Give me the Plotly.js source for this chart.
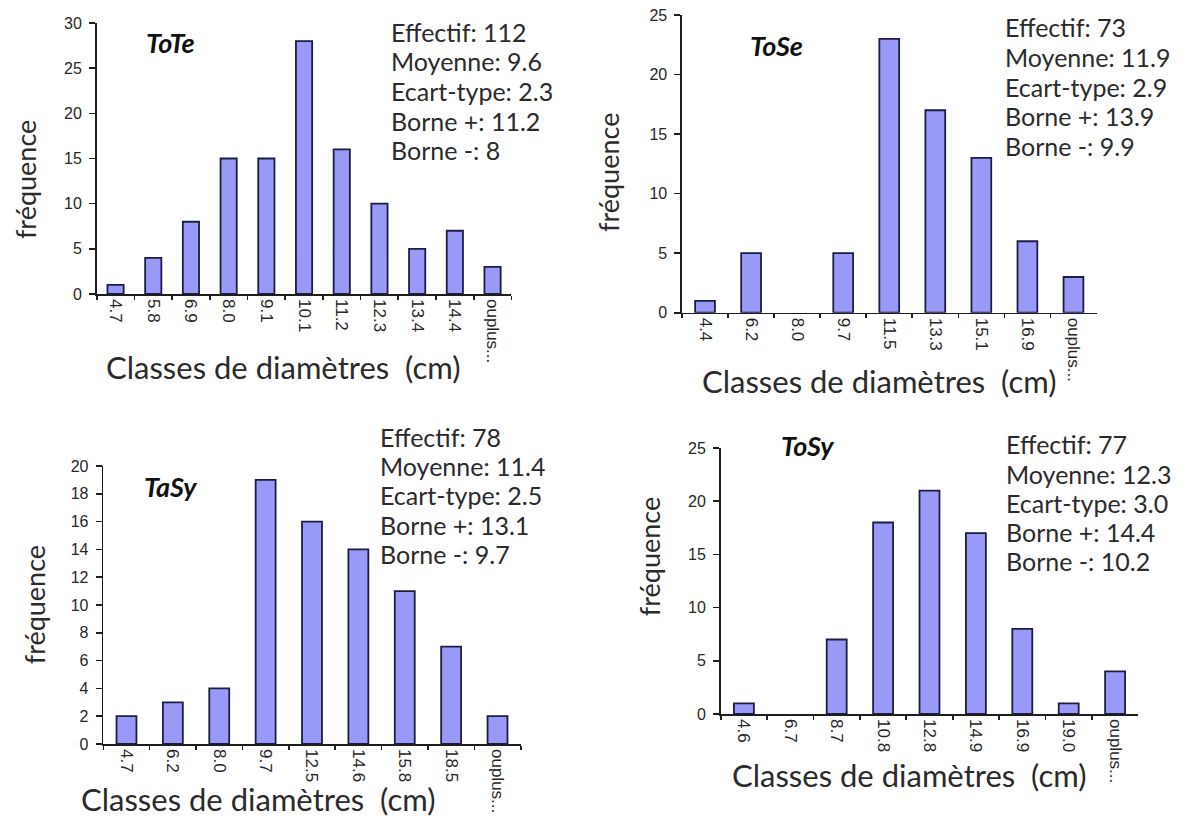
<!DOCTYPE html>
<html>
<head>
<meta charset="utf-8">
<script src="https://cdn.plot.ly/plotly-3.0.1.min.js"></script>
<style>html,body{margin:0;padding:0;background:#fff;}#chart{width:1202px;height:819px;}</style>
</head>
<body>
<div id="chart"></div>
<script>
// ---- Data ----
const namesPanels = ['ToTe', 'ToSe', 'TaSy', 'ToSy'];

const classesToTe = ['4.7', '5.8', '6.9', '8.0', '9.1', '10.1', '11.2', '12.3', '13.4', '14.4', 'ouplus...'];
const freqToTe = [1, 4, 8, 15, 15, 28, 16, 10, 5, 7, 3];
const statsToTe = ['Effectif: 112', 'Moyenne: 9.6', 'Ecart-type: 2.3', 'Borne +: 11.2', 'Borne -: 8'];

const classesToSe = ['4.4', '6.2', '8.0', '9.7', '11.5', '13.3', '15.1', '16.9', 'ouplus...'];
const freqToSe = [1, 5, 0, 5, 23, 17, 13, 6, 3];
const statsToSe = ['Effectif: 73', 'Moyenne: 11.9', 'Ecart-type: 2.9', 'Borne +: 13.9', 'Borne -: 9.9'];

const classesTaSy = ['4.7', '6.2', '8.0', '9.7', '12.5', '14.6', '15.8', '18.5', 'ouplus...'];
const freqTaSy = [2, 3, 4, 19, 16, 14, 11, 7, 2];
const statsTaSy = ['Effectif: 78', 'Moyenne: 11.4', 'Ecart-type: 2.5', 'Borne +: 13.1', 'Borne -: 9.7'];

const classesToSy = ['4.6', '6.7', '8.7', '10.8', '12.8', '14.9', '16.9', '19.0', 'ouplus...'];
const freqToSy = [1, 0, 7, 18, 21, 17, 8, 1, 4];
const statsToSy = ['Effectif: 77', 'Moyenne: 12.3', 'Ecart-type: 3.0', 'Borne +: 14.4', 'Borne -: 10.2'];

const yMax = [30, 25, 20, 25];
const yStep = [5, 5, 2, 5];

const xTitle = 'Classes de diamètres  (cm)';
const yTitle = 'fréquence';

// ---- Layout geometry (pixels) ----
const W = 1202, H = 819;
const px = x => x / W;
const py = y => 1 - y / H;

const panels = [
  {cats: classesToTe, vals: freqToTe, stats: statsToTe,
   x0: 96.7, x1: 511.4, yTop: 23, yBot: 294,
   textX: 390, textY: [32, 61.5, 91, 120.5, 150],
   nameX: 143.5, nameY: 42.4, xtX: 283, xtY: 367, ytX: 26.3, ytY: 179.8},
  {cats: classesToSe, vals: freqToSe, stats: statsToSe,
   x0: 682, x1: 1096.5, yTop: 15, yBot: 312.7,
   textX: 1004, textY: [27, 56.8, 86.6, 116.4, 146.2],
   nameX: 747.7, nameY: 45.2, xtX: 878.5, xtY: 380.8, ytX: 608, ytY: 173},
  {cats: classesTaSy, vals: freqTaSy, stats: statsTaSy,
   x0: 103.3, x1: 520.7, yTop: 466, yBot: 744,
   textX: 379, textY: [437, 466.2, 495.4, 524.6, 553.8],
   nameX: 141.5, nameY: 486.3, xtX: 258, xtY: 799, ytX: 34.3, ytY: 605},
  {cats: classesToSy, vals: freqToSy, stats: statsToSy,
   x0: 720.7, x1: 1138.3, yTop: 448, yBot: 714,
   textX: 1005, textY: [444.4, 473.6, 502.8, 532, 561.2],
   nameX: 779, nameY: 446, xtX: 908.5, xtY: 774.5, ytX: 649.5, ytY: 556.7}
];

const axisColor = '#1e1e1e';
const textFont = 'Lato, "Open Sans", sans-serif';
const tickFont = {family: '"Liberation Sans", Arial, sans-serif', size: 17, color: '#262626'};
const yTickFont = {family: '"Liberation Sans", Arial, sans-serif', size: 16, color: '#262626'};

const traces = [];
const layout = {
  width: W, height: H,
  margin: {l: 0, r: 0, t: 0, b: 0},
  paper_bgcolor: '#ffffff', plot_bgcolor: 'rgba(0,0,0,0)',
  showlegend: false,
  bargap: 0.57,
  annotations: []
};

panels.forEach((p, i) => {
  const k = i + 1;
  const xa = 'x' + (k === 1 ? '' : k);
  const ya = 'y' + (k === 1 ? '' : k);
  const xo = 4 + k, yo = 4 + k; // overlay axes for crossing ticks
  traces.push({
    type: 'bar', x: p.cats, y: p.vals, xaxis: xa, yaxis: ya,
    marker: {color: '#9999f8', line: {color: '#1c1c44', width: p.vals.map(v => v > 0 ? 1.8 : 0)}},
    hoverinfo: 'x+y'
  });
  const n = p.cats.length;
  layout['xaxis' + (k === 1 ? '' : k)] = {
    domain: [px(p.x0), px(p.x1)], anchor: ya, type: 'category',
    range: [-0.5, n - 0.5],
    tickson: 'boundaries', ticks: 'outside', ticklen: 4, tickwidth: 1.6, tickcolor: axisColor,
    showline: true, linecolor: axisColor, linewidth: 1.6,
    showgrid: false, zeroline: false, tickangle: 90, tickfont: tickFont, fixedrange: true
  };
  layout['yaxis' + (k === 1 ? '' : k)] = {
    domain: [py(p.yBot), py(p.yTop)], anchor: xa,
    range: [0, yMax[i]], dtick: yStep[i], tick0: 0,
    ticks: 'outside', ticklen: 6, tickwidth: 1.6, tickcolor: axisColor,
    showline: true, linecolor: axisColor, linewidth: 1.6,
    showgrid: false, zeroline: false, tickfont: yTickFont, ticklabelstandoff: 4, fixedrange: true
  };
  // inner halves of the crossing ticks
  layout['xaxis' + xo] = {
    overlaying: xa, anchor: ya, type: 'linear', range: [-0.5, n - 0.5],
    tick0: -0.5, dtick: 1, ticks: 'inside', ticklen: 4, tickwidth: 1.6, tickcolor: axisColor,
    showticklabels: false, showline: false, showgrid: false, zeroline: false, fixedrange: true
  };
  layout['yaxis' + yo] = {
    overlaying: ya, anchor: xa, side: 'left', range: [0, yMax[i]], dtick: yStep[i], tick0: 0,
    ticks: 'inside', ticklen: 6, tickwidth: 1.6, tickcolor: axisColor,
    showticklabels: false, showline: false, showgrid: false, zeroline: false, fixedrange: true
  };
  // statistics block
  p.stats.forEach((s, j) => {
    layout.annotations.push({
      xref: 'paper', yref: 'paper', x: px(p.textX), y: py(p.textY[j]),
      xanchor: 'left', yanchor: 'middle', showarrow: false, text: s, borderpad: 0,
      font: {family: textFont, size: 25, color: '#2b2b2b'}
    });
  });
  // panel name
  layout.annotations.push({
    xref: 'paper', yref: 'paper', x: px(p.nameX), y: py(p.nameY),
    xanchor: 'left', yanchor: 'middle', showarrow: false,
    text: '<b><i>' + namesPanels[i] + '</i></b>',
    font: {family: textFont, size: 27, color: '#111111'}
  });
  // axis titles
  layout.annotations.push({
    xref: 'paper', yref: 'paper', x: px(p.xtX), y: py(p.xtY),
    xanchor: 'center', yanchor: 'middle', showarrow: false, text: xTitle,
    font: {family: textFont, size: 31, color: '#2b2b2b'}
  });
  layout.annotations.push({
    xref: 'paper', yref: 'paper', x: px(p.ytX), y: py(p.ytY),
    xanchor: 'center', yanchor: 'middle', showarrow: false, text: yTitle, textangle: -90,
    font: {family: textFont, size: 27, color: '#2b2b2b'}
  });
});

Plotly.newPlot('chart', traces, layout, {displayModeBar: false, staticPlot: true});
</script>
</body>
</html>
